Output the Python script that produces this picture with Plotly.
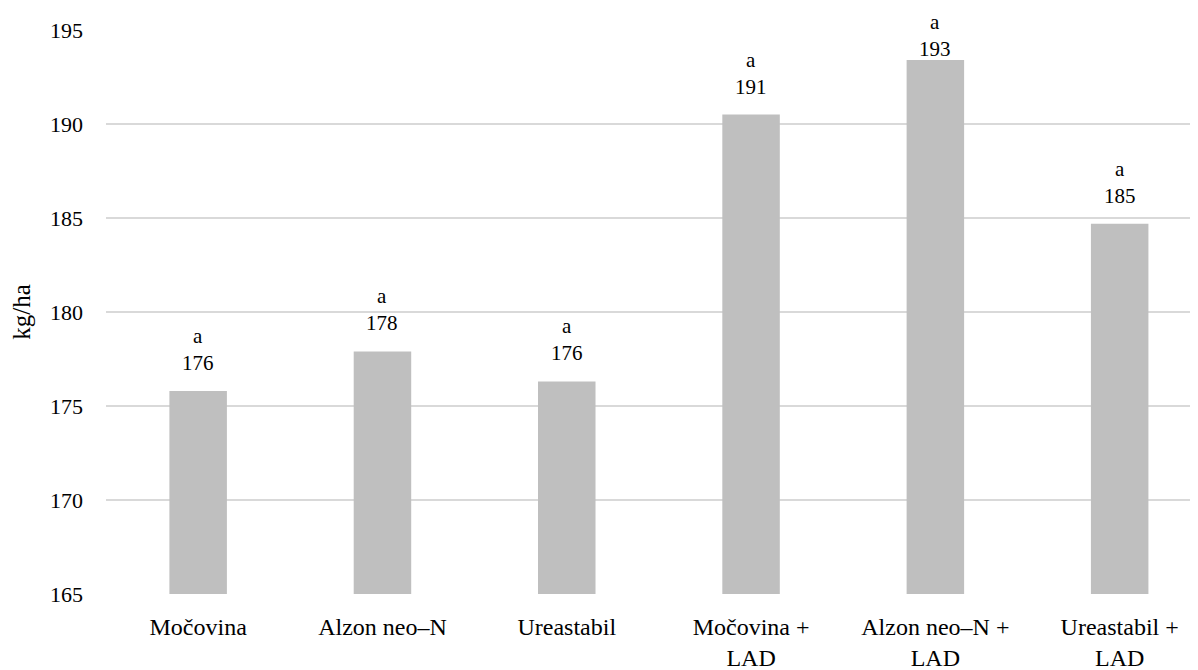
import math
import plotly.graph_objects as go

categories = ["Močovina", "Alzon neo–N", "Ureastabil", "Močovina +<br>LAD", "Alzon neo–N +<br>LAD", "Ureastabil +<br>LAD"]
values = [175.8, 177.9, 176.3, 190.5, 193.4, 184.7]
letters = ["a", "a", "a", "a", "a", "a"]
y_ticks = [165, 170, 175, 180, 185, 190, 195]

FONT = '"Liberation Serif", "Times New Roman", serif'
x_idx = list(range(len(categories)))

fig = go.Figure()
fig.add_trace(go.Bar(
    x=x_idx, y=values, width=0.312,
    marker=dict(color="#BFBFBF", line=dict(width=0)),
    hoverinfo="skip",
))

y_min, y_max = 165, 195
for i, (v, l) in enumerate(zip(values, letters)):
    base = min(v + 0.75, y_max - 1.75)
    fig.add_annotation(
        x=i, y=base, xref="x", yref="y",
        text=f"{l}<br>{math.floor(v + 0.5)}", showarrow=False,
        yanchor="bottom", xanchor="center",
        font=dict(family=FONT, size=21, color="#000000"),
    )

fig.update_layout(
    width=1190, height=662,
    margin=dict(l=98, r=0, t=22, b=76),
    plot_bgcolor="#FFFFFF", paper_bgcolor="#FFFFFF",
    showlegend=False,
    font=dict(family=FONT, size=22, color="#000000"),
    xaxis=dict(
        range=[-0.5, 5.425], tickmode="array", tickvals=x_idx, ticktext=categories,
        showgrid=False, zeroline=False, showline=False, ticks="",
        tickfont=dict(family=FONT, size=24, color="#000000"),
        ticklabelstandoff=16, automargin=False,
    ),
    yaxis=dict(
        range=[y_min, y_max], tickmode="array", tickvals=y_ticks,
        showgrid=True, gridcolor="#D9D9D9", gridwidth=1.5,
        zeroline=False, showline=False, ticks="",
        tickfont=dict(family=FONT, size=22, color="#000000"),
        ticklabelstandoff=22, automargin=False,
        title=dict(text="kg/ha", font=dict(family=FONT, size=25, color="#000000"), standoff=12),
    ),
)

fig.write_html("out.html")
